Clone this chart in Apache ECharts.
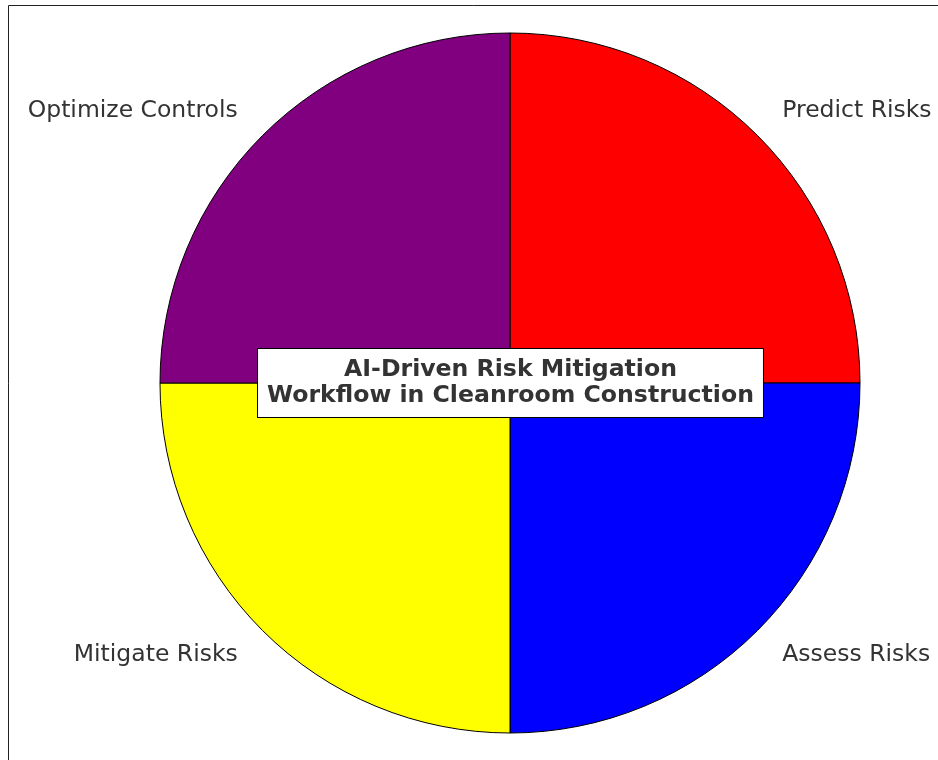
<!DOCTYPE html>
<html>
<head>
<meta charset="utf-8">
<script src="https://cdn.jsdelivr.net/npm/echarts@6/dist/echarts.min.js"></script>
<style>
html,body{margin:0;padding:0;background:#fff;}
#main{width:938px;height:760px;}
</style>
</head>
<body>
<div id="main"></div>
<script>
const categories = ['Predict Risks', 'Assess Risks', 'Mitigate Risks', 'Optimize Controls'];
const values = [25, 25, 25, 25];
const colors = ['#FF0000', '#0000FF', '#FFFF00', '#800080'];
const titleText = 'AI-Driven Risk Mitigation\nWorkflow in Cleanroom Construction';

const chart = echarts.init(document.getElementById('main'), null, {renderer: 'canvas'});
const FONT = '"DejaVu Sans", sans-serif';

chart.setOption({
  animation: false,
  backgroundColor: '#fff',
  graphic: [{
    type: 'rect',
    shape: {x: 8.5, y: 5.5, width: 1000, height: 1000},
    style: {fill: 'none', stroke: '#222', lineWidth: 1},
    silent: true,
    z: 0
  }, {
    type: 'text',
    x: 510.5,
    y: 383,
    z: 100,
    silent: true,
    style: {
      text: titleText,
      align: 'center',
      verticalAlign: 'middle',
      fontFamily: FONT,
      fontSize: 23.6,
      fontWeight: 'bold',
      fill: '#333',
      lineHeight: 26,
      backgroundColor: '#fff',
      borderColor: '#000',
      borderWidth: 1,
      padding: [8, 9]
    }
  }],
  series: [{
    type: 'pie',
    center: [510, 383],
    radius: [0, 350],
    startAngle: 90,
    clockwise: true,
    minAngle: 0,
    avoidLabelOverlap: false,
    z: 2,
    data: categories.map((c, i) => ({
      name: c,
      value: values[i],
      itemStyle: {color: colors[i]}
    })),
    itemStyle: {borderColor: '#000', borderWidth: 1},
    label: {
      show: true,
      position: 'outside',
      formatter: '{b}',
      fontFamily: FONT,
      fontSize: 23.5,
      color: '#333',
      distanceToLabelLine: 0
    },
    labelLine: {show: false, length: 35, length2: 0},
    emphasis: {disabled: true}
  }]
});
</script>
</body>
</html>
